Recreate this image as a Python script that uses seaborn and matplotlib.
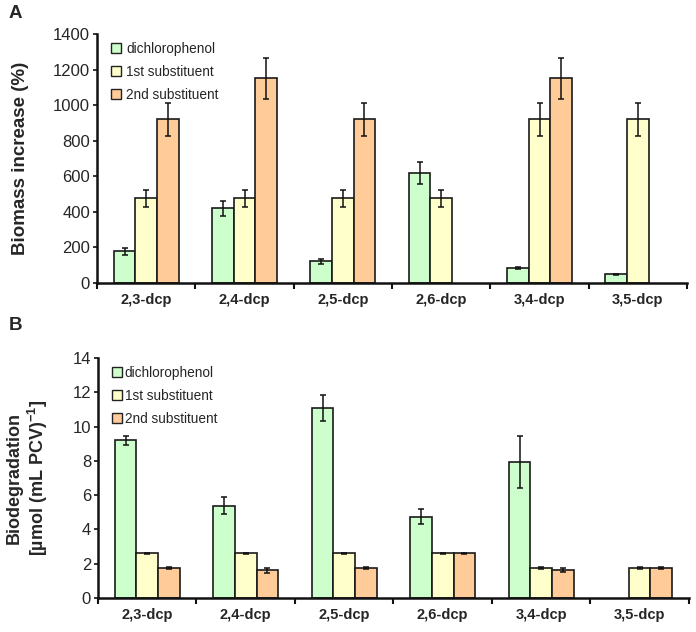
import numpy as np
import pandas as pd
import matplotlib
matplotlib.use("Agg")
import matplotlib.pyplot as plt
import seaborn as sns
from matplotlib.patches import Patch

categories = ["2,3-dcp", "2,4-dcp", "2,5-dcp", "2,6-dcp", "3,4-dcp", "3,5-dcp"]
series = ["dichlorophenol", "1st substituent", "2nd substituent"]
colors = ["#CCFFCC", "#FFFFCC", "#FFCC99"]

# Panel A: biomass increase (%)
biomass_dcp = [178, 419, 122, 616, 84, 49]
biomass_dcp_err = [19, 43, 13, 62, 6, 4]
biomass_1st = [476, 476, 476, 476, 921, 921]
biomass_1st_err = [49, 49, 49, 49, 92, 92]
biomass_2nd = [921, 1150, 921, np.nan, 1150, np.nan]
biomass_2nd_err = [92, 116, 92, np.nan, 116, np.nan]

# Panel B: biodegradation [umol (mL PCV)^-1]
biodeg_dcp = [9.2, 5.39, 11.08, 4.74, 7.95, np.nan]
biodeg_dcp_err = [0.27, 0.5, 0.75, 0.45, 1.52, np.nan]
biodeg_1st = [2.6, 2.6, 2.6, 2.6, 1.75, 1.75]
biodeg_1st_err = [0.03, 0.03, 0.03, 0.03, 0.03, 0.03]
biodeg_2nd = [1.75, 1.61, 1.75, 2.6, 1.61, 1.75]
biodeg_2nd_err = [0.05, 0.15, 0.05, 0.03, 0.12, 0.04]

sns.set_theme(style="white")
plt.rcParams["font.family"] = ["Liberation Sans", "DejaVu Sans"]
plt.rcParams["mathtext.fontset"] = "custom"
plt.rcParams["mathtext.rm"] = "Liberation Sans"
plt.rcParams["mathtext.bf"] = "Liberation Sans:bold"

fig = plt.figure(figsize=(6.96, 6.32), dpi=100)
axA = fig.add_axes([0.1394, 0.5522, 0.8477, 0.394])
axB = fig.add_axes([0.1408, 0.0538, 0.849, 0.3797])

WIDTH = 0.66
offsets = [-WIDTH / 3, 0, WIDTH / 3]


def draw(ax, vals, errs, ylim, yticks, ylabel, ylabel_size, labelpad, legend_kw):
    rows = []
    for s, v in zip(series, vals):
        for c, x in zip(categories, v):
            rows.append({"cat": c, "series": s, "val": x})
    df = pd.DataFrame(rows)
    sns.barplot(data=df, x="cat", y="val", hue="series", order=categories,
                hue_order=series, palette=colors, width=WIDTH, errorbar=None,
                edgecolor="#1a1a1a", linewidth=1.2, ax=ax, legend=False,
                saturation=1)
    for k, (v, e) in enumerate(zip(vals, errs)):
        xs = np.arange(len(categories)) + offsets[k]
        v = np.asarray(v, float)
        e = np.asarray(e, float)
        m = ~np.isnan(v)
        ax.errorbar(xs[m], v[m], yerr=e[m], fmt="none", ecolor="#111111",
                    elinewidth=1.1, capsize=2.2, capthick=1.1, zorder=5)
    ax.set_xlim(-0.5, len(categories) - 0.5)
    ax.set_ylim(*ylim)
    ax.set_yticks(yticks)
    ax.set_yticklabels([str(t) for t in yticks], fontsize=12)
    ax.set_xticks(np.arange(-0.5, len(categories)), labels=[""] * (len(categories) + 1))
    ax.set_xticks(np.arange(len(categories)), labels=categories, minor=True)
    ax.tick_params(axis="x", which="major", direction="out", length=4, width=1.5,
                   color="#111111", bottom=True)
    ax.tick_params(axis="x", which="minor", length=0, labelsize=10.5, pad=7)
    for lab in ax.get_xticklabels(minor=True):
        lab.set_fontweight("bold")
    ax.tick_params(axis="y", direction="out", length=3, width=1.2, color="#111111",
                   left=True, pad=2)
    ax.set_xlabel("")
    ax.set_ylabel(ylabel, fontsize=ylabel_size, fontweight="bold", labelpad=labelpad)
    for sp in ["top", "right"]:
        ax.spines[sp].set_visible(False)
    for sp in ["left", "bottom"]:
        ax.spines[sp].set_linewidth(1.8)
        ax.spines[sp].set_color("#111111")
    handles = [Patch(facecolor=c, edgecolor="#222222", linewidth=1.0, label=s)
               for s, c in zip(series, colors)]
    ax.legend(handles=handles, frameon=False, fontsize=9.8, handlelength=0.7,
              handleheight=0.7, **legend_kw)


draw(axA, [biomass_dcp, biomass_1st, biomass_2nd],
     [biomass_dcp_err, biomass_1st_err, biomass_2nd_err],
     (0, 1400), list(range(0, 1401, 200)), "Biomass increase (%)", 13.5, 17,
     dict(loc="upper left", bbox_to_anchor=(0.015, 0.99), labelspacing=0.65,
          handletextpad=0.4, borderaxespad=0))
draw(axB, [biodeg_dcp, biodeg_1st, biodeg_2nd],
     [biodeg_dcp_err, biodeg_1st_err, biodeg_2nd_err],
     (0, 14), list(range(0, 15, 2)),
     "Biodegradation\n[µmol (mL PCV)$^{\\mathbf{-1}}$]", 13, 16,
     dict(loc="upper left", bbox_to_anchor=(0.015, 0.99), labelspacing=0.65,
          handletextpad=0.2, borderaxespad=0))

fig.text(0.012, 0.978, "A", fontsize=13.5, fontweight="bold", va="center")
fig.text(0.012, 0.485, "B", fontsize=13.5, fontweight="bold", va="center")

fig.savefig("out.png", dpi=100)
